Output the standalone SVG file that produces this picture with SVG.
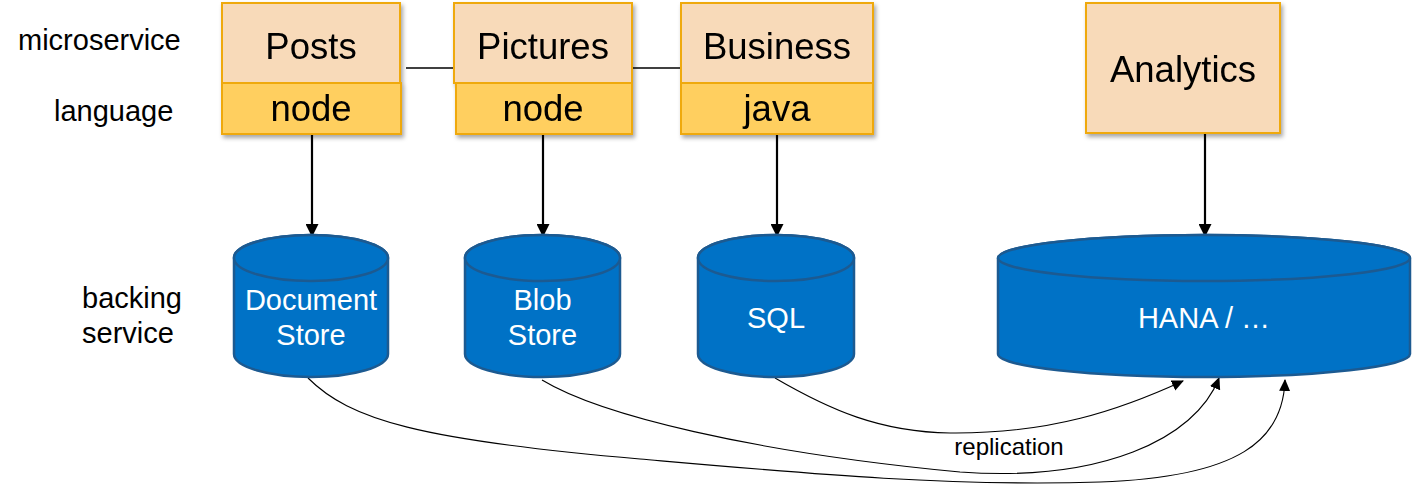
<svg xmlns="http://www.w3.org/2000/svg" width="1412" height="487" viewBox="0 0 1412 487">
<style>
.lbl{font-family:"Liberation Sans",Arial,sans-serif;font-size:29px;fill:#000}
.big{font-family:"Liberation Sans",Arial,sans-serif;font-size:36.5px;fill:#000;text-anchor:middle}
.db{font-family:"Liberation Sans",Arial,sans-serif;font-size:29px;fill:#fff;text-anchor:middle}
.top{fill:#F8DAB9;stroke:#EFA90A;stroke-width:2}
.lang{fill:#FFCF5E;stroke:#EFA90A;stroke-width:2}
.cyl{fill:#0072C6;stroke:#1C5A91;stroke-width:2.5}
.arr{stroke:#000;stroke-width:2.2;fill:none}
.rep{stroke:#000;stroke-width:1.1;fill:none}
</style>
<defs>
<filter id="sh" x="-10%" y="-10%" width="130%" height="130%">
<feDropShadow dx="2" dy="3" stdDeviation="2" flood-color="#000" flood-opacity="0.35"/>
</filter>
<marker id="ah" markerWidth="13" markerHeight="13" refX="12" refY="6.5" orient="auto" markerUnits="userSpaceOnUse">
<path d="M0,0 L13,6.5 L0,13 Z" fill="#000"/>
</marker>
<marker id="ah2" markerWidth="12" markerHeight="12" refX="11" refY="6" orient="auto" markerUnits="userSpaceOnUse">
<path d="M0,0.5 L12,6 L0,11.5 Z" fill="#000"/>
</marker>
</defs>

<g id="row-labels">
<text class="lbl" x="18" y="50">microservice</text>
<text class="lbl" x="54" y="121">language</text>
<text class="lbl" x="82" y="308">backing</text>
<text class="lbl" x="82" y="343">service</text>
</g>

<g id="connectors">
<line x1="406" y1="68" x2="454" y2="68" stroke="#000" stroke-width="1.3"/>
<line x1="632" y1="68" x2="682" y2="68" stroke="#000" stroke-width="1.3"/>
<line class="arr" x1="312" y1="135" x2="312" y2="236" marker-end="url(#ah)"/>
<line class="arr" x1="543" y1="135" x2="543" y2="236" marker-end="url(#ah)"/>
<line class="arr" x1="777" y1="135" x2="777" y2="236" marker-end="url(#ah)"/>
<line class="arr" x1="1205" y1="134" x2="1205" y2="236" marker-end="url(#ah)"/>
<path class="rep" d="M775,378 C830,410 880,432 950,433 C1050,434 1120,410 1183,381" marker-end="url(#ah2)"/>
<path class="rep" d="M542,380 C600,415 750,452 960,472 C1100,482 1195,440 1219,378" marker-end="url(#ah2)"/>
<path class="rep" d="M308,378 C350,420 420,440 640,459 C800,473 950,487 1100,482 C1240,477 1283,440 1285,380" marker-end="url(#ah2)"/>
<text x="1009" y="455" font-family="Liberation Sans, Arial, sans-serif" font-size="24px" text-anchor="middle" fill="#000">replication</text>
</g>

<g id="posts" filter="url(#sh)">
<rect class="top" x="222" y="3" width="178" height="80"/>
<rect class="lang" x="222" y="83" width="179" height="51"/>
<text class="big" x="311" y="59">Posts</text>
<text class="big" x="311" y="121">node</text>
</g>

<g id="pictures" filter="url(#sh)">
<rect class="top" x="454" y="3" width="178" height="80"/>
<rect class="lang" x="456" y="83" width="176" height="51"/>
<text class="big" x="543" y="59">Pictures</text>
<text class="big" x="543" y="121">node</text>
</g>

<g id="business" filter="url(#sh)">
<rect class="top" x="681" y="3" width="192" height="80"/>
<rect class="lang" x="681" y="83" width="192" height="51"/>
<text class="big" x="777" y="59">Business</text>
<text class="big" x="777" y="121">java</text>
</g>

<g id="analytics" filter="url(#sh)">
<rect class="top" x="1086" y="3" width="194" height="130"/>
<text class="big" x="1183" y="82">Analytics</text>
</g>

<g id="document-store">
<path class="cyl" d="M234,258 V354 A77,23 0 0 0 388,354 V258 A77,23 0 0 0 234,258 Z"/>
<ellipse class="cyl" cx="311" cy="258" rx="77" ry="23"/>
<text class="db" x="311" y="310">Document</text>
<text class="db" x="311" y="345">Store</text>
</g>

<g id="blob-store">
<path class="cyl" d="M465,258 V354 A77.5,23 0 0 0 620,354 V258 A77.5,23 0 0 0 465,258 Z"/>
<ellipse class="cyl" cx="542.5" cy="258" rx="77.5" ry="23"/>
<text class="db" x="542.5" y="310">Blob</text>
<text class="db" x="542.5" y="345">Store</text>
</g>

<g id="sql">
<path class="cyl" d="M698,258 V354 A78,23 0 0 0 854,354 V258 A78,23 0 0 0 698,258 Z"/>
<ellipse class="cyl" cx="776" cy="258" rx="78" ry="23"/>
<text class="db" x="776" y="328">SQL</text>
</g>

<g id="hana">
<path class="cyl" d="M998,258 V354 A206,23 0 0 0 1410,354 V258 A206,23 0 0 0 998,258 Z"/>
<ellipse class="cyl" cx="1204" cy="258" rx="206" ry="23"/>
<text class="db" x="1204" y="328">HANA / …</text>
</g>
</svg>
